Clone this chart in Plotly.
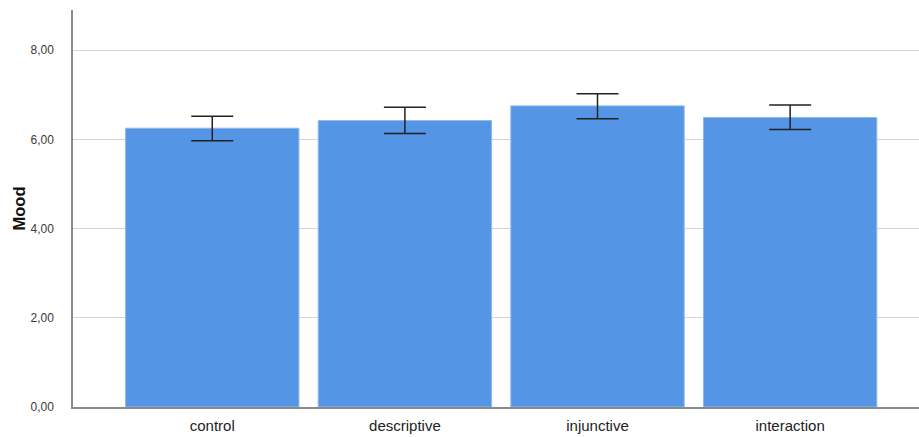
import plotly.graph_objects as go

categories = ["control", "descriptive", "injunctive", "interaction"]
means = [6.25, 6.42, 6.75, 6.49]
err_upper = [6.52, 6.72, 7.02, 6.77]
err_lower = [5.97, 6.13, 6.46, 6.22]
y_ticks = [0, 2, 4, 6, 8]
y_tick_labels = ["0,00", "2,00", "4,00", "6,00", "8,00"]

plus = [u - m for u, m in zip(err_upper, means)]
minus = [m - l for m, l in zip(means, err_lower)]

fig = go.Figure(go.Bar(
    x=categories, y=means, width=0.9,
    marker=dict(color="#5595E5", line=dict(color="#8DB8EE", width=1)),
    error_y=dict(type="data", symmetric=False, array=plus, arrayminus=minus,
                 color="#222222", thickness=1.5, width=21),
))

fig.update_layout(
    width=919, height=437,
    margin=dict(l=73, r=0, t=10, b=30),
    plot_bgcolor="white", paper_bgcolor="white",
    showlegend=False,
    font=dict(family="Liberation Sans, Arial, sans-serif", color="#222222"),
    xaxis=dict(type="category", range=[-0.723, 3.669], showgrid=False,
               showline=True, linecolor="#8a8a8a", linewidth=1.5,
               tickfont=dict(size=15, color="#222222"), ticks="",
               ticklabelstandoff=4),
    yaxis=dict(range=[0, 8.9], tickvals=y_ticks, ticktext=y_tick_labels,
               showgrid=True, gridcolor="#d4d4d4", gridwidth=1,
               showline=True, linecolor="#8a8a8a", linewidth=1.5,
               zeroline=False, ticks="", ticklabelstandoff=15,
               tickfont=dict(size=12, color="#3a3a3a")),
    annotations=[dict(text="<b>Mood</b>", textangle=-90, xref="paper", yref="paper",
                      x=-55 / 846, y=0.5, xanchor="center", yanchor="middle",
                      showarrow=False, font=dict(size=16.5, color="#111111"))],
)

fig.write_html("out.html", config={"displayModeBar": False},
               post_script="document.body.style.margin='0';document.body.style.overflow='hidden';")
